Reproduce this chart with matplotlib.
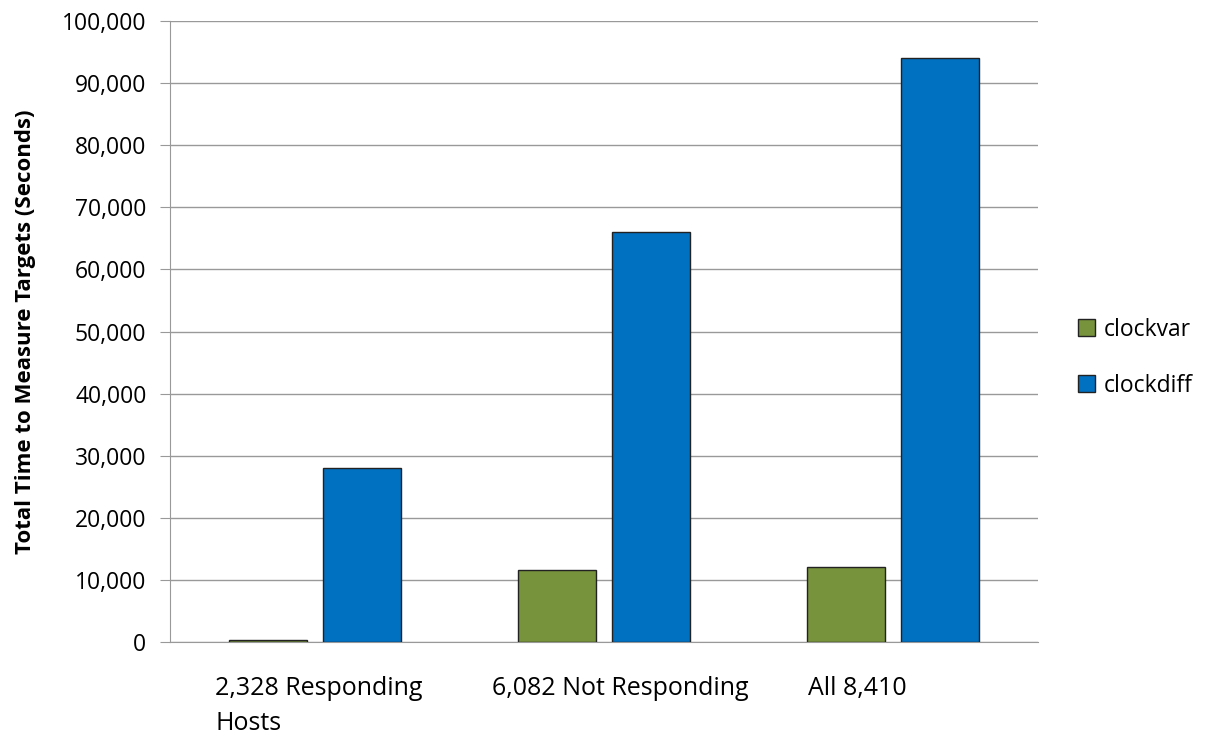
import numpy as np
import matplotlib
matplotlib.use('Agg')
import matplotlib.pyplot as plt
from matplotlib.transforms import blended_transform_factory
plt.rcParams.update({'font.family': ['Open Sans', 'DejaVu Sans'], 'font.size': 16})

categories = ['2,328 Responding\nHosts', '6,082 Not Responding', 'All 8,410']
clockvar = [300, 11600, 12100]
clockdiff = [28000, 66000, 94000]
GREEN, BLUE = '#77933C', '#0070C0'

fig = plt.figure(figsize=(12.12, 7.38), dpi=100)
ax = fig.add_axes([0.1403, 0.1301, 0.7161, 0.8414])
x = np.arange(len(categories))
w = 0.27
ax.bar(x - 0.162, clockvar, w, color=GREEN, edgecolor='#222222', lw=1, label='clockvar', zorder=3)
ax.bar(x + 0.162, clockdiff, w, color=BLUE, edgecolor='#222222', lw=1, label='clockdiff', zorder=3)
ax.set_xlim(-0.5, 2.5)
ax.set_ylim(0, 100000)
ax.set_yticks(range(0, 100001, 10000))
ax.set_yticklabels([f'{v:,}' for v in range(0, 100001, 10000)])
ax.yaxis.grid(True, color='#999999', lw=1)
ax.set_axisbelow(True)
for s in ['top', 'right']:
    ax.spines[s].set_visible(False)
for s in ['left', 'bottom']:
    ax.spines[s].set_color('#999999')
ax.tick_params(axis='y', color='#999999', length=7, labelsize=16.5, pad=10)
ax.set_xticks([])

# Excel-style category labels, wrapped and left-aligned inside their slot
tr = blended_transform_factory(ax.transData, ax.transAxes)
for xi, lab in zip([-0.344, 0.613, 1.705], categories):
    ax.text(xi, -0.055, lab, transform=tr, ha='left', va='top', fontsize=18, linespacing=1.5)

ax.set_ylabel('Total Time to Measure Targets (Seconds)', fontweight='bold', fontsize=16)
ax.yaxis.set_label_coords(-0.155, 0.5)
leg = ax.legend(loc='center left', bbox_to_anchor=(1.022, 0.458), frameon=False, fontsize=16.5,
                handlelength=0.75, handleheight=0.75, handletextpad=0.4, labelspacing=1.4)
fig.savefig('out.png', dpi=100)
